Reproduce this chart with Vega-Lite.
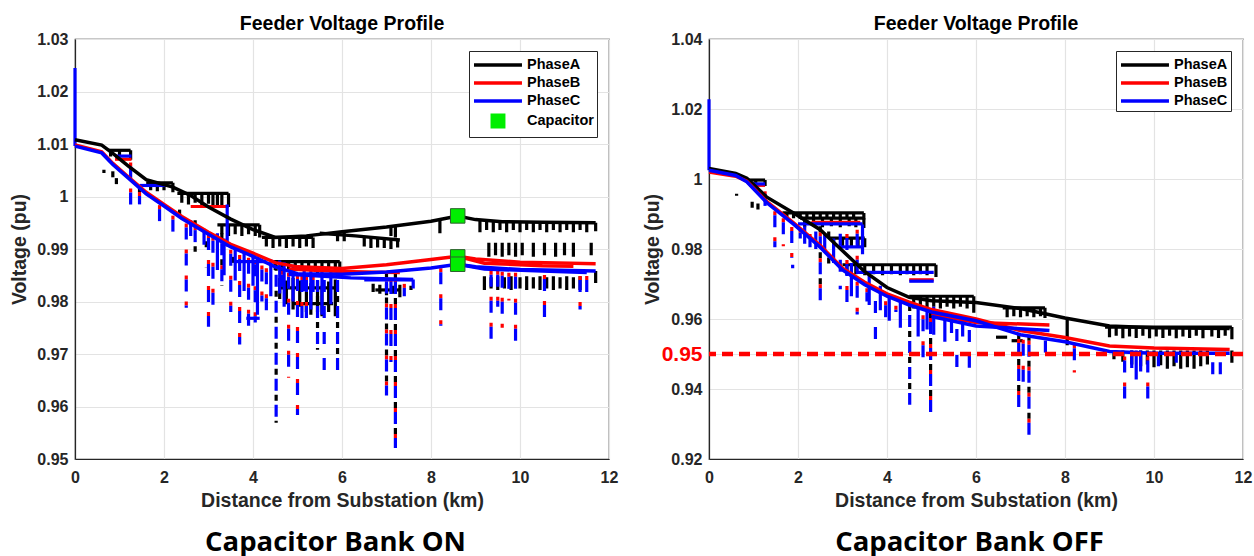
{
"$schema": "https://vega.github.io/schema/vega-lite/v6.json",
"background": "white",
"padding": {"left": 8, "top": 12, "right": 6, "bottom": 0},
"spacing": 100,
"bounds": "flush",
"resolve": {"scale": {"x": "independent", "y": "independent", "color": "independent"}, "legend": {"color": "independent"}},
"datasets": {
"onMain": [
{"ph":"PhaseA","s":1,"x":0,"y":1.0108},{"ph":"PhaseA","s":1,"x":0.6,"y":1.0098},{"ph":"PhaseA","s":1,"x":0.85,"y":1.0082},{"ph":"PhaseA","s":1,"x":1.2,"y":1.0058},{"ph":"PhaseA","s":1,"x":1.6,"y":1.0032},{"ph":"PhaseA","s":1,"x":2.2,"y":1.0018},{"ph":"PhaseA","s":1,"x":2.6,"y":1.0002},{"ph":"PhaseA","s":1,"x":3.0,"y":0.998},{"ph":"PhaseA","s":1,"x":3.5,"y":0.9957},{"ph":"PhaseA","s":1,"x":4.0,"y":0.9937},{"ph":"PhaseA","s":1,"x":4.5,"y":0.9922},{"ph":"PhaseA","s":1,"x":5.2,"y":0.9925},{"ph":"PhaseA","s":1,"x":6.0,"y":0.9933},{"ph":"PhaseA","s":1,"x":7.0,"y":0.9942},{"ph":"PhaseA","s":1,"x":8.0,"y":0.9953},{"ph":"PhaseA","s":1,"x":8.6,"y":0.9963},{"ph":"PhaseA","s":1,"x":9.0,"y":0.9956},{"ph":"PhaseA","s":1,"x":9.6,"y":0.9952},{"ph":"PhaseA","s":1,"x":10.5,"y":0.9951},{"ph":"PhaseA","s":1,"x":11.7,"y":0.995},
{"ph":"PhaseA","s":2,"x":5.5,"y":0.993},{"ph":"PhaseA","s":2,"x":6.3,"y":0.9925},{"ph":"PhaseA","s":2,"x":7.3,"y":0.9917},
{"ph":"PhaseB","s":3,"x":0,"y":1.0098},{"ph":"PhaseB","s":3,"x":0.6,"y":1.0085},{"ph":"PhaseB","s":3,"x":0.85,"y":1.0063},{"ph":"PhaseB","s":3,"x":1.2,"y":1.0037},{"ph":"PhaseB","s":3,"x":1.6,"y":1.0008},{"ph":"PhaseB","s":3,"x":2.0,"y":0.9985},{"ph":"PhaseB","s":3,"x":2.4,"y":0.9962},{"ph":"PhaseB","s":3,"x":3.0,"y":0.9932},{"ph":"PhaseB","s":3,"x":3.5,"y":0.9909},{"ph":"PhaseB","s":3,"x":4.0,"y":0.9892},{"ph":"PhaseB","s":3,"x":4.5,"y":0.9874},{"ph":"PhaseB","s":3,"x":5.0,"y":0.9866},{"ph":"PhaseB","s":3,"x":6.0,"y":0.9863},{"ph":"PhaseB","s":3,"x":7.0,"y":0.987},{"ph":"PhaseB","s":3,"x":8.0,"y":0.988},{"ph":"PhaseB","s":3,"x":8.6,"y":0.9886},{"ph":"PhaseB","s":3,"x":9.0,"y":0.9881},{"ph":"PhaseB","s":3,"x":10.0,"y":0.9875},{"ph":"PhaseB","s":3,"x":11.7,"y":0.9872},
{"ph":"PhaseB","s":4,"x":4.8,"y":0.9862},{"ph":"PhaseB","s":4,"x":6.0,"y":0.9857},{"ph":"PhaseB","s":4,"x":7.3,"y":0.9855},
{"ph":"PhaseB","s":5,"x":8.6,"y":0.9886},{"ph":"PhaseB","s":5,"x":9.2,"y":0.9873},{"ph":"PhaseB","s":5,"x":10.5,"y":0.9868},{"ph":"PhaseB","s":5,"x":11.2,"y":0.9867},
{"ph":"PhaseC","s":6,"x":0,"y":1.0096},{"ph":"PhaseC","s":6,"x":0.6,"y":1.0083},{"ph":"PhaseC","s":6,"x":0.85,"y":1.0061},{"ph":"PhaseC","s":6,"x":1.2,"y":1.0035},{"ph":"PhaseC","s":6,"x":1.6,"y":1.0005},{"ph":"PhaseC","s":6,"x":2.0,"y":0.9982},{"ph":"PhaseC","s":6,"x":2.4,"y":0.9958},{"ph":"PhaseC","s":6,"x":3.0,"y":0.9928},{"ph":"PhaseC","s":6,"x":3.5,"y":0.9904},{"ph":"PhaseC","s":6,"x":4.0,"y":0.9886},{"ph":"PhaseC","s":6,"x":4.5,"y":0.9866},{"ph":"PhaseC","s":6,"x":5.0,"y":0.9853},{"ph":"PhaseC","s":6,"x":6.0,"y":0.9852},{"ph":"PhaseC","s":6,"x":7.0,"y":0.9856},{"ph":"PhaseC","s":6,"x":8.0,"y":0.9864},{"ph":"PhaseC","s":6,"x":8.6,"y":0.9871},{"ph":"PhaseC","s":6,"x":9.0,"y":0.9866},{"ph":"PhaseC","s":6,"x":10.0,"y":0.9861},{"ph":"PhaseC","s":6,"x":11.7,"y":0.9858},
{"ph":"PhaseC","s":7,"x":4.8,"y":0.9852},{"ph":"PhaseC","s":7,"x":6.2,"y":0.9845},{"ph":"PhaseC","s":7,"x":7.6,"y":0.9842},
{"ph":"PhaseC","s":8,"x":8.6,"y":0.9871},{"ph":"PhaseC","s":8,"x":9.2,"y":0.9862},{"ph":"PhaseC","s":8,"x":10.5,"y":0.9858},{"ph":"PhaseC","s":8,"x":11.5,"y":0.9855}
],
"onCaps": [{"x":8.6,"y":0.9963},{"x":8.6,"y":0.9885},{"x":8.6,"y":0.9871}],
"onH": [
{"c":"k","x":0.75,"x2":1.25,"y":1.0088},{"c":"r","x":0.9,"x2":1.27,"y":1.0071},{"c":"b","x":0.9,"x2":1.27,"y":1.0077},
{"c":"k","x":1.6,"x2":2.2,"y":1.0026},{"c":"b","x":1.45,"x2":2.05,"y":1.0021},
{"c":"k","x":2.3,"x2":3.45,"y":1.0006},{"c":"r","x":2.6,"x2":3.45,"y":0.9981},
{"c":"k","x":3.2,"x2":4.15,"y":0.9946},{"c":"k","x":4.2,"x2":5.35,"y":0.9922},{"c":"k","x":4.4,"x2":5.95,"y":0.9876},
{"c":"b","x":3.6,"x2":4.3,"y":0.9876},{"c":"b","x":3.85,"x2":4.15,"y":0.9768},
{"c":"k","x":4.6,"x2":5.9,"y":0.9826},{"c":"k","x":4.9,"x2":5.8,"y":0.9796},
{"c":"b","x":6.5,"x2":7.6,"y":0.9841},{"c":"k","x":6.75,"x2":7.3,"y":0.9822}
],
"onV": [
{"c":"b","x":0,"y":1.0245,"y2":1.0096,"d":"s"},
{"c":"k","x":0.8,"y":1.0088,"y2":1.0076,"d":"s"},{"c":"k","x":1.0,"y":1.0088,"y2":1.0078,"d":"s"},{"c":"k","x":1.25,"y":1.0088,"y2":1.007,"d":"s"},
{"c":"k","x":0.65,"y":1.0051,"y2":1.0045,"d":"s"},{"c":"k","x":0.85,"y":1.0048,"y2":1.0005,"d":"d"},{"c":"k","x":0.93,"y":1.0035,"y2":1.0,"d":"d"},
{"c":"k","x":1.7,"y":1.0026,"y2":1.0012,"d":"s"},{"c":"k","x":1.85,"y":1.0026,"y2":1.001,"d":"s"},{"c":"k","x":2.0,"y":1.0026,"y2":1.0012,"d":"s"},{"c":"k","x":2.2,"y":1.0026,"y2":1.0008,"d":"s"},
{"c":"k","x":2.4,"y":1.0006,"y2":0.9988,"d":"s"},{"c":"k","x":2.55,"y":1.0006,"y2":0.9985,"d":"s"},{"c":"k","x":2.7,"y":1.0006,"y2":0.9988,"d":"s"},{"c":"k","x":2.85,"y":1.0006,"y2":0.9982,"d":"s"},{"c":"k","x":3.0,"y":1.0006,"y2":0.9986,"d":"s"},{"c":"k","x":3.1,"y":1.0006,"y2":0.998,"d":"s"},{"c":"k","x":3.2,"y":1.0006,"y2":0.9984,"d":"s"},{"c":"k","x":3.3,"y":1.0006,"y2":0.9982,"d":"s"},{"c":"k","x":3.45,"y":1.0006,"y2":0.998,"d":"s"},
{"c":"k","x":3.3,"y":0.9946,"y2":0.9928,"d":"s"},{"c":"k","x":3.45,"y":0.9946,"y2":0.9925,"d":"s"},{"c":"k","x":3.6,"y":0.9946,"y2":0.9928,"d":"s"},{"c":"k","x":3.75,"y":0.9946,"y2":0.9925,"d":"s"},{"c":"k","x":3.9,"y":0.9946,"y2":0.9928,"d":"s"},{"c":"k","x":4.05,"y":0.9946,"y2":0.9925,"d":"s"},{"c":"k","x":4.15,"y":0.9946,"y2":0.9922,"d":"s"},
{"c":"k","x":4.3,"y":0.9922,"y2":0.9905,"d":"s"},{"c":"k","x":4.45,"y":0.9922,"y2":0.9902,"d":"s"},{"c":"k","x":4.6,"y":0.9922,"y2":0.9905,"d":"s"},{"c":"k","x":4.75,"y":0.9922,"y2":0.9902,"d":"s"},{"c":"k","x":4.9,"y":0.9922,"y2":0.9905,"d":"s"},{"c":"k","x":5.05,"y":0.9922,"y2":0.9902,"d":"s"},{"c":"k","x":5.2,"y":0.9922,"y2":0.9905,"d":"s"},{"c":"k","x":5.35,"y":0.9922,"y2":0.9902,"d":"s"},
{"c":"k","x":4.5,"y":0.9876,"y2":0.986,"d":"s"},{"c":"k","x":4.65,"y":0.9876,"y2":0.9858,"d":"s"},{"c":"k","x":4.8,"y":0.9876,"y2":0.986,"d":"s"},{"c":"k","x":4.95,"y":0.9876,"y2":0.9858,"d":"s"},{"c":"k","x":5.1,"y":0.9876,"y2":0.986,"d":"s"},{"c":"k","x":5.25,"y":0.9876,"y2":0.9858,"d":"s"},{"c":"k","x":5.4,"y":0.9876,"y2":0.986,"d":"s"},{"c":"k","x":5.55,"y":0.9876,"y2":0.9858,"d":"s"},{"c":"k","x":5.7,"y":0.9876,"y2":0.986,"d":"s"},{"c":"k","x":5.85,"y":0.9876,"y2":0.9858,"d":"s"},{"c":"k","x":5.95,"y":0.9876,"y2":0.985,"d":"s"},
{"c":"k","x":5.9,"y":0.9932,"y2":0.9915,"d":"s"},{"c":"k","x":6.05,"y":0.9933,"y2":0.9915,"d":"s"},{"c":"k","x":7.1,"y":0.9941,"y2":0.9925,"d":"s"},{"c":"k","x":7.2,"y":0.9942,"y2":0.9922,"d":"s"},{"c":"k","x":8.2,"y":0.9955,"y2":0.993,"d":"s"},
{"c":"k","x":6.5,"y":0.9923,"y2":0.9905,"d":"s"},{"c":"k","x":6.65,"y":0.9922,"y2":0.9902,"d":"s"},{"c":"k","x":6.8,"y":0.9921,"y2":0.9903,"d":"s"},{"c":"k","x":6.95,"y":0.992,"y2":0.9902,"d":"s"},{"c":"k","x":7.1,"y":0.9919,"y2":0.99,"d":"s"},{"c":"k","x":7.25,"y":0.9918,"y2":0.9903,"d":"s"},
{"c":"k","x":9.1,"y":0.9955,"y2":0.9932,"d":"s"},{"c":"k","x":9.25,"y":0.9953,"y2":0.9936,"d":"s"},{"c":"k","x":9.4,"y":0.9952,"y2":0.9932,"d":"s"},{"c":"k","x":9.55,"y":0.9952,"y2":0.9936,"d":"s"},{"c":"k","x":9.7,"y":0.9952,"y2":0.9932,"d":"s"},{"c":"k","x":9.85,"y":0.9952,"y2":0.9936,"d":"s"},{"c":"k","x":10.0,"y":0.9951,"y2":0.9932,"d":"s"},{"c":"k","x":10.15,"y":0.9951,"y2":0.9936,"d":"s"},{"c":"k","x":10.3,"y":0.9951,"y2":0.9932,"d":"s"},{"c":"k","x":10.45,"y":0.9951,"y2":0.9936,"d":"s"},{"c":"k","x":10.6,"y":0.9951,"y2":0.9932,"d":"s"},{"c":"k","x":10.75,"y":0.9951,"y2":0.9936,"d":"s"},{"c":"k","x":10.9,"y":0.995,"y2":0.9932,"d":"s"},{"c":"k","x":11.05,"y":0.995,"y2":0.9936,"d":"s"},{"c":"k","x":11.2,"y":0.995,"y2":0.9932,"d":"s"},{"c":"k","x":11.35,"y":0.995,"y2":0.9936,"d":"s"},{"c":"k","x":11.5,"y":0.995,"y2":0.9932,"d":"s"},{"c":"k","x":11.7,"y":0.995,"y2":0.9934,"d":"s"},
{"c":"k","x":9.3,"y":0.9912,"y2":0.9885,"d":"s"},{"c":"k","x":9.45,"y":0.9912,"y2":0.9888,"d":"s"},{"c":"k","x":9.6,"y":0.9912,"y2":0.9885,"d":"s"},{"c":"k","x":9.75,"y":0.9912,"y2":0.9888,"d":"s"},{"c":"k","x":9.9,"y":0.9912,"y2":0.9885,"d":"s"},{"c":"k","x":10.05,"y":0.9912,"y2":0.9888,"d":"s"},{"c":"k","x":10.3,"y":0.9912,"y2":0.9885,"d":"s"},{"c":"k","x":10.55,"y":0.9912,"y2":0.9888,"d":"s"},{"c":"k","x":10.8,"y":0.9912,"y2":0.9885,"d":"s"},{"c":"k","x":11.0,"y":0.9912,"y2":0.9888,"d":"s"},{"c":"k","x":11.2,"y":0.9912,"y2":0.9885,"d":"s"},{"c":"k","x":11.6,"y":0.9912,"y2":0.9888,"d":"s"},
{"c":"k","x":9.2,"y":0.9848,"y2":0.9822,"d":"s"},{"c":"k","x":9.35,"y":0.9846,"y2":0.9825,"d":"s"},{"c":"k","x":9.5,"y":0.9848,"y2":0.9822,"d":"s"},{"c":"k","x":9.65,"y":0.9846,"y2":0.9825,"d":"s"},{"c":"k","x":9.8,"y":0.9848,"y2":0.9822,"d":"s"},{"c":"k","x":10.0,"y":0.9846,"y2":0.9825,"d":"s"},{"c":"k","x":10.15,"y":0.9848,"y2":0.9822,"d":"s"},{"c":"k","x":10.3,"y":0.9846,"y2":0.9825,"d":"s"},{"c":"k","x":10.45,"y":0.9848,"y2":0.9822,"d":"s"},{"c":"k","x":10.6,"y":0.9846,"y2":0.9825,"d":"s"},{"c":"k","x":10.75,"y":0.9848,"y2":0.9822,"d":"s"},{"c":"k","x":10.9,"y":0.9846,"y2":0.9825,"d":"s"},{"c":"k","x":11.05,"y":0.9848,"y2":0.9822,"d":"s"},{"c":"k","x":11.2,"y":0.9846,"y2":0.9825,"d":"s"},{"c":"k","x":11.35,"y":0.9848,"y2":0.9822,"d":"s"},{"c":"k","x":11.7,"y":0.9858,"y2":0.9835,"d":"s"},
{"c":"k","x":6.7,"y":0.9834,"y2":0.9818,"d":"s"},{"c":"k","x":6.85,"y":0.9832,"y2":0.9815,"d":"s"},{"c":"k","x":7.0,"y":0.9834,"y2":0.9812,"d":"s"},{"c":"k","x":7.15,"y":0.983,"y2":0.9815,"d":"s"},{"c":"k","x":7.3,"y":0.9832,"y2":0.9808,"d":"s"},{"c":"k","x":7.55,"y":0.983,"y2":0.9822,"d":"s"},
{"c":"k","x":4.6,"y":0.9845,"y2":0.9805,"d":"s"},{"c":"k","x":4.75,"y":0.984,"y2":0.9795,"d":"s"},{"c":"k","x":4.9,"y":0.9845,"y2":0.9785,"d":"s"},{"c":"k","x":5.05,"y":0.984,"y2":0.979,"d":"s"},{"c":"k","x":5.2,"y":0.9842,"y2":0.978,"d":"s"},{"c":"k","x":5.3,"y":0.9835,"y2":0.9775,"d":"s"},{"c":"k","x":5.45,"y":0.984,"y2":0.978,"d":"s"},{"c":"k","x":5.55,"y":0.983,"y2":0.9772,"d":"s"},{"c":"k","x":5.7,"y":0.9838,"y2":0.978,"d":"s"},{"c":"k","x":5.85,"y":0.9842,"y2":0.9772,"d":"s"},
{"c":"k","x":2.35,"y":0.9975,"y2":0.9955,"d":"d"},{"c":"k","x":2.95,"y":0.9915,"y2":0.9865,"d":"d"},{"c":"k","x":3.55,"y":0.9885,"y2":0.984,"d":"d"},
{"c":"rb","x":1.25,"y":1.0076,"y2":0.9985,"d":"d"},{"c":"krb","x":1.45,"y":1.002,"y2":0.9985,"d":"d"},{"c":"rb","x":1.9,"y":0.9995,"y2":0.9945,"d":"d"},{"c":"rb","x":2.2,"y":0.9975,"y2":0.9915,"d":"d"},{"c":"rb","x":2.5,"y":0.996,"y2":0.9788,"d":"d"},{"c":"krb","x":2.7,"y":0.9955,"y2":0.9895,"d":"d"},{"c":"rb","x":2.9,"y":0.995,"y2":0.9905,"d":"d"},{"c":"rb","x":3.0,"y":0.994,"y2":0.9752,"d":"d"},{"c":"rb","x":3.1,"y":0.9935,"y2":0.978,"d":"d"},{"c":"krb","x":3.3,"y":0.993,"y2":0.983,"d":"d"},{"c":"b","x":3.42,"y":0.9985,"y2":0.9905,"d":"s"},{"c":"rb","x":3.5,"y":0.991,"y2":0.978,"d":"d"},{"c":"rb","x":3.7,"y":0.99,"y2":0.9718,"d":"d"},{"c":"rb","x":3.9,"y":0.9895,"y2":0.9735,"d":"d"},{"c":"rb","x":4.05,"y":0.989,"y2":0.976,"d":"d"},{"c":"rb","x":4.2,"y":0.988,"y2":0.98,"d":"d"},{"c":"rb","x":4.3,"y":0.9875,"y2":0.977,"d":"d"},{"c":"kb","x":4.52,"y":0.987,"y2":0.9569,"d":"d"},{"c":"rb","x":4.65,"y":0.987,"y2":0.981,"d":"d"},{"c":"rb","x":4.8,"y":0.9866,"y2":0.9655,"d":"d"},{"c":"rb","x":5.0,"y":0.9862,"y2":0.9584,"d":"d"},{"c":"rb","x":5.1,"y":0.986,"y2":0.976,"d":"d"},{"c":"rb","x":5.2,"y":0.986,"y2":0.9755,"d":"d"},{"c":"rb","x":5.35,"y":0.986,"y2":0.98,"d":"d"},{"c":"kb","x":5.45,"y":0.986,"y2":0.9708,"d":"d"},{"c":"b","x":5.6,"y":0.986,"y2":0.9667,"d":"d"},{"c":"kb","x":5.9,"y":0.986,"y2":0.9667,"d":"d"},{"c":"krb","x":7.0,"y":0.9857,"y2":0.9621,"d":"d"},{"c":"rb","x":7.1,"y":0.9856,"y2":0.9685,"d":"d"},{"c":"krb","x":7.2,"y":0.9856,"y2":0.9521,"d":"d"},{"c":"rb","x":7.4,"y":0.9845,"y2":0.981,"d":"d"},{"c":"b","x":7.6,"y":0.9842,"y2":0.9825,"d":"s"},{"c":"rb","x":8.22,"y":0.9875,"y2":0.9754,"d":"d"},{"c":"rb","x":9.35,"y":0.987,"y2":0.9713,"d":"d"},{"c":"rb","x":9.5,"y":0.987,"y2":0.979,"d":"d"},{"c":"rb","x":9.6,"y":0.9868,"y2":0.975,"d":"d"},{"c":"rb","x":9.75,"y":0.9866,"y2":0.9802,"d":"d"},{"c":"rb","x":9.9,"y":0.9866,"y2":0.9711,"d":"d"},{"c":"rb","x":10.55,"y":0.9862,"y2":0.977,"d":"d"},{"c":"rb","x":11.35,"y":0.986,"y2":0.9785,"d":"d"},{"c":"rb","x":11.5,"y":0.986,"y2":0.9802,"d":"d"},
{"c":"b","x":2.6,"y":0.9955,"y2":0.9925,"d":"s"},{"c":"b","x":3.2,"y":0.993,"y2":0.986,"d":"s"},{"c":"b","x":3.35,"y":0.992,"y2":0.985,"d":"s"},{"c":"b","x":3.6,"y":0.99,"y2":0.984,"d":"s"},{"c":"b","x":3.8,"y":0.9895,"y2":0.982,"d":"s"},{"c":"b","x":4.0,"y":0.989,"y2":0.983,"d":"s"},{"c":"b","x":4.1,"y":0.9885,"y2":0.9775,"d":"s"},{"c":"b","x":4.4,"y":0.988,"y2":0.981,"d":"s"},{"c":"b","x":4.6,"y":0.9878,"y2":0.9815,"d":"s"},{"c":"b","x":4.7,"y":0.9875,"y2":0.979,"d":"s"},{"c":"b","x":4.9,"y":0.987,"y2":0.98,"d":"s"},{"c":"b","x":5.15,"y":0.986,"y2":0.982,"d":"s"},{"c":"b","x":5.3,"y":0.986,"y2":0.9785,"d":"s"},{"c":"b","x":5.55,"y":0.986,"y2":0.9775,"d":"s"},{"c":"b","x":5.75,"y":0.986,"y2":0.9795,"d":"s"}
],
"offMain": [
{"ph":"PhaseA","s":1,"x":0,"y":1.003},{"ph":"PhaseA","s":1,"x":0.6,"y":1.0016},{"ph":"PhaseA","s":1,"x":0.85,"y":1.0002},{"ph":"PhaseA","s":1,"x":1.3,"y":0.9948},{"ph":"PhaseA","s":1,"x":1.9,"y":0.9903},{"ph":"PhaseA","s":1,"x":2.5,"y":0.9855},{"ph":"PhaseA","s":1,"x":3.0,"y":0.9795},{"ph":"PhaseA","s":1,"x":3.5,"y":0.9735},{"ph":"PhaseA","s":1,"x":4.0,"y":0.969},{"ph":"PhaseA","s":1,"x":4.5,"y":0.9662},{"ph":"PhaseA","s":1,"x":5.0,"y":0.9652},{"ph":"PhaseA","s":1,"x":6.0,"y":0.9647},{"ph":"PhaseA","s":1,"x":7.0,"y":0.963},{"ph":"PhaseA","s":1,"x":8.0,"y":0.9603},{"ph":"PhaseA","s":1,"x":9.0,"y":0.958},{"ph":"PhaseA","s":1,"x":10.0,"y":0.9575},{"ph":"PhaseA","s":1,"x":11.7,"y":0.9573},
{"ph":"PhaseB","s":3,"x":0,"y":1.002},{"ph":"PhaseB","s":3,"x":0.6,"y":1.0008},{"ph":"PhaseB","s":3,"x":0.85,"y":0.9994},{"ph":"PhaseB","s":3,"x":1.3,"y":0.9935},{"ph":"PhaseB","s":3,"x":1.9,"y":0.9875},{"ph":"PhaseB","s":3,"x":2.5,"y":0.981},{"ph":"PhaseB","s":3,"x":3.0,"y":0.9745},{"ph":"PhaseB","s":3,"x":3.5,"y":0.9705},{"ph":"PhaseB","s":3,"x":4.0,"y":0.9672},{"ph":"PhaseB","s":3,"x":4.5,"y":0.9648},{"ph":"PhaseB","s":3,"x":5.0,"y":0.9627},{"ph":"PhaseB","s":3,"x":6.0,"y":0.96},{"ph":"PhaseB","s":3,"x":7.0,"y":0.9567},{"ph":"PhaseB","s":3,"x":8.0,"y":0.9547},{"ph":"PhaseB","s":3,"x":9.0,"y":0.9523},{"ph":"PhaseB","s":3,"x":10.0,"y":0.9517},{"ph":"PhaseB","s":3,"x":11.7,"y":0.9513},
{"ph":"PhaseB","s":4,"x":5.0,"y":0.9615},{"ph":"PhaseB","s":4,"x":6.0,"y":0.959},{"ph":"PhaseB","s":4,"x":7.65,"y":0.9583},
{"ph":"PhaseC","s":6,"x":0,"y":1.0025},{"ph":"PhaseC","s":6,"x":0.6,"y":1.001},{"ph":"PhaseC","s":6,"x":0.85,"y":0.9992},{"ph":"PhaseC","s":6,"x":1.3,"y":0.9932},{"ph":"PhaseC","s":6,"x":1.9,"y":0.9871},{"ph":"PhaseC","s":6,"x":2.5,"y":0.9805},{"ph":"PhaseC","s":6,"x":3.0,"y":0.974},{"ph":"PhaseC","s":6,"x":3.5,"y":0.9698},{"ph":"PhaseC","s":6,"x":4.0,"y":0.9665},{"ph":"PhaseC","s":6,"x":4.5,"y":0.964},{"ph":"PhaseC","s":6,"x":5.0,"y":0.962},{"ph":"PhaseC","s":6,"x":6.0,"y":0.9595},{"ph":"PhaseC","s":6,"x":7.0,"y":0.9555},{"ph":"PhaseC","s":6,"x":8.0,"y":0.9535},{"ph":"PhaseC","s":6,"x":9.0,"y":0.9507},{"ph":"PhaseC","s":6,"x":10.0,"y":0.9502},{"ph":"PhaseC","s":6,"x":11.7,"y":0.9502},
{"ph":"PhaseC","s":7,"x":5.0,"y":0.9607},{"ph":"PhaseC","s":7,"x":6.0,"y":0.958},{"ph":"PhaseC","s":7,"x":7.65,"y":0.9567}
],
"offH": [
{"c":"k","x":0.85,"x2":1.26,"y":0.9997},{"c":"r","x":0.9,"x2":1.26,"y":0.9982},{"c":"b","x":0.9,"x2":1.26,"y":0.9986},
{"c":"k","x":1.65,"x2":3.48,"y":0.9903},{"c":"k","x":2.05,"x2":3.48,"y":0.9888},{"c":"r","x":2.3,"x2":3.4,"y":0.9876},{"c":"b","x":2.0,"x2":3.45,"y":0.9872},
{"c":"k","x":2.7,"x2":3.5,"y":0.9831},{"c":"b","x":2.9,"x2":3.45,"y":0.9806},
{"c":"k","x":3.0,"x2":5.1,"y":0.9755},{"c":"b","x":3.3,"x2":5.05,"y":0.9733},{"c":"r","x":4.5,"x2":5.05,"y":0.9712},{"c":"b","x":4.5,"x2":5.05,"y":0.9708},
{"c":"k","x":4.5,"x2":5.95,"y":0.9665},{"c":"k","x":6.6,"x2":7.55,"y":0.9632},{"c":"k","x":8.9,"x2":11.75,"y":0.9577},
{"c":"k","x":6.45,"x2":6.7,"y":0.9548},{"c":"k","x":6.8,"x2":7.05,"y":0.9538}
],
"offV": [
{"c":"b","x":0,"y":1.0228,"y2":1.0025,"d":"s"},
{"c":"k","x":0.9,"y":0.9997,"y2":0.9985,"d":"s"},{"c":"k","x":1.05,"y":0.9997,"y2":0.9983,"d":"s"},{"c":"k","x":1.26,"y":0.9997,"y2":0.998,"d":"s"},
{"c":"k","x":0.62,"y":0.9958,"y2":0.9952,"d":"s"},{"c":"k","x":0.97,"y":0.9935,"y2":0.9915,"d":"d"},{"c":"k","x":1.1,"y":0.993,"y2":0.9905,"d":"d"},
{"c":"k","x":1.75,"y":0.9903,"y2":0.9886,"d":"s"},{"c":"k","x":1.9,"y":0.9903,"y2":0.9888,"d":"s"},{"c":"k","x":2.05,"y":0.9903,"y2":0.9886,"d":"s"},{"c":"k","x":2.2,"y":0.9903,"y2":0.9888,"d":"s"},{"c":"k","x":2.35,"y":0.9903,"y2":0.9886,"d":"s"},{"c":"k","x":2.5,"y":0.9903,"y2":0.9888,"d":"s"},{"c":"k","x":2.65,"y":0.9903,"y2":0.9886,"d":"s"},{"c":"k","x":2.8,"y":0.9903,"y2":0.9888,"d":"s"},{"c":"k","x":2.95,"y":0.9903,"y2":0.9886,"d":"s"},{"c":"k","x":3.1,"y":0.9903,"y2":0.9888,"d":"s"},{"c":"k","x":3.25,"y":0.9903,"y2":0.9886,"d":"s"},{"c":"k","x":3.48,"y":0.9903,"y2":0.9884,"d":"s"},
{"c":"k","x":2.15,"y":0.9888,"y2":0.9862,"d":"s"},{"c":"k","x":2.35,"y":0.9888,"y2":0.9865,"d":"s"},{"c":"k","x":2.55,"y":0.9888,"y2":0.9862,"d":"s"},{"c":"k","x":2.75,"y":0.9888,"y2":0.9865,"d":"s"},{"c":"k","x":2.95,"y":0.9888,"y2":0.9862,"d":"s"},{"c":"k","x":3.15,"y":0.9888,"y2":0.9865,"d":"s"},{"c":"k","x":3.3,"y":0.9888,"y2":0.9862,"d":"s"},{"c":"k","x":3.48,"y":0.9888,"y2":0.986,"d":"s"},
{"c":"k","x":2.8,"y":0.9831,"y2":0.9805,"d":"s"},{"c":"k","x":3.0,"y":0.9831,"y2":0.9808,"d":"s"},{"c":"k","x":3.2,"y":0.9831,"y2":0.9805,"d":"s"},{"c":"k","x":3.35,"y":0.9831,"y2":0.9808,"d":"s"},{"c":"k","x":3.5,"y":0.9831,"y2":0.9805,"d":"s"},
{"c":"k","x":3.1,"y":0.9755,"y2":0.9725,"d":"s"},{"c":"k","x":3.3,"y":0.9755,"y2":0.9728,"d":"s"},{"c":"k","x":3.5,"y":0.9755,"y2":0.9725,"d":"s"},{"c":"k","x":3.7,"y":0.9755,"y2":0.9728,"d":"s"},{"c":"k","x":3.9,"y":0.9755,"y2":0.9725,"d":"s"},{"c":"k","x":4.1,"y":0.9755,"y2":0.9728,"d":"s"},{"c":"k","x":4.3,"y":0.9755,"y2":0.9725,"d":"s"},{"c":"k","x":4.45,"y":0.9755,"y2":0.9728,"d":"s"},{"c":"k","x":4.6,"y":0.9755,"y2":0.9725,"d":"s"},{"c":"k","x":4.75,"y":0.9755,"y2":0.9728,"d":"s"},{"c":"k","x":4.9,"y":0.9755,"y2":0.9725,"d":"s"},{"c":"k","x":5.1,"y":0.9755,"y2":0.972,"d":"s"},
{"c":"k","x":4.6,"y":0.9665,"y2":0.963,"d":"s"},{"c":"k","x":4.75,"y":0.9665,"y2":0.9635,"d":"s"},{"c":"k","x":4.9,"y":0.9665,"y2":0.963,"d":"s"},{"c":"k","x":5.05,"y":0.9665,"y2":0.9635,"d":"s"},{"c":"k","x":5.2,"y":0.9665,"y2":0.963,"d":"s"},{"c":"k","x":5.35,"y":0.9665,"y2":0.9635,"d":"s"},{"c":"k","x":5.5,"y":0.9665,"y2":0.963,"d":"s"},{"c":"k","x":5.65,"y":0.9665,"y2":0.9635,"d":"s"},{"c":"k","x":5.8,"y":0.9665,"y2":0.963,"d":"s"},{"c":"k","x":5.95,"y":0.9665,"y2":0.9618,"d":"s"},
{"c":"k","x":6.7,"y":0.9632,"y2":0.9605,"d":"s"},{"c":"k","x":6.85,"y":0.9632,"y2":0.9608,"d":"s"},{"c":"k","x":7.0,"y":0.9632,"y2":0.9605,"d":"s"},{"c":"k","x":7.15,"y":0.9632,"y2":0.9608,"d":"s"},{"c":"k","x":7.3,"y":0.9632,"y2":0.9605,"d":"s"},{"c":"k","x":7.45,"y":0.9632,"y2":0.9608,"d":"s"},{"c":"k","x":7.55,"y":0.9632,"y2":0.9603,"d":"s"},
{"c":"k","x":9.0,"y":0.9577,"y2":0.9548,"d":"s"},{"c":"k","x":9.15,"y":0.9577,"y2":0.9552,"d":"s"},{"c":"k","x":9.3,"y":0.9577,"y2":0.9545,"d":"s"},{"c":"k","x":9.45,"y":0.9577,"y2":0.955,"d":"s"},{"c":"k","x":9.6,"y":0.9577,"y2":0.9546,"d":"s"},{"c":"k","x":9.75,"y":0.9577,"y2":0.9552,"d":"s"},{"c":"k","x":9.9,"y":0.9577,"y2":0.9545,"d":"s"},{"c":"k","x":10.05,"y":0.9577,"y2":0.955,"d":"s"},{"c":"k","x":10.2,"y":0.9577,"y2":0.9546,"d":"s"},{"c":"k","x":10.35,"y":0.9577,"y2":0.9552,"d":"s"},{"c":"k","x":10.5,"y":0.9577,"y2":0.9545,"d":"s"},{"c":"k","x":10.65,"y":0.9577,"y2":0.955,"d":"s"},{"c":"k","x":10.8,"y":0.9577,"y2":0.9546,"d":"s"},{"c":"k","x":10.95,"y":0.9577,"y2":0.9552,"d":"s"},{"c":"k","x":11.1,"y":0.9577,"y2":0.9545,"d":"s"},{"c":"k","x":11.3,"y":0.9577,"y2":0.955,"d":"s"},{"c":"k","x":11.45,"y":0.9577,"y2":0.9546,"d":"s"},{"c":"k","x":11.6,"y":0.9577,"y2":0.9552,"d":"s"},{"c":"k","x":11.75,"y":0.9577,"y2":0.9542,"d":"s"},
{"c":"k","x":9.1,"y":0.9505,"y2":0.9485,"d":"s"},{"c":"k","x":9.3,"y":0.951,"y2":0.9478,"d":"s"},{"c":"k","x":9.5,"y":0.951,"y2":0.947,"d":"s"},{"c":"k","x":9.7,"y":0.951,"y2":0.9465,"d":"s"},{"c":"k","x":9.85,"y":0.951,"y2":0.947,"d":"s"},{"c":"k","x":10.0,"y":0.951,"y2":0.9462,"d":"s"},{"c":"k","x":10.15,"y":0.951,"y2":0.9468,"d":"s"},{"c":"k","x":10.3,"y":0.951,"y2":0.9458,"d":"s"},{"c":"k","x":10.45,"y":0.951,"y2":0.9465,"d":"s"},{"c":"k","x":10.6,"y":0.951,"y2":0.9458,"d":"s"},{"c":"k","x":10.75,"y":0.951,"y2":0.9462,"d":"s"},{"c":"k","x":10.9,"y":0.951,"y2":0.9458,"d":"s"},{"c":"k","x":11.05,"y":0.951,"y2":0.9465,"d":"s"},{"c":"k","x":11.2,"y":0.951,"y2":0.947,"d":"s"},{"c":"k","x":11.75,"y":0.951,"y2":0.9475,"d":"s"},
{"c":"k","x":8.05,"y":0.9602,"y2":0.9525,"d":"s"},{"c":"k","x":2.69,"y":0.985,"y2":0.9714,"d":"d"},
{"c":"b","x":1.26,"y":0.9986,"y2":0.9912,"d":"d"},{"c":"r","x":1.26,"y":0.9982,"y2":0.993,"d":"d"},
{"c":"rb","x":1.48,"y":0.9925,"y2":0.9805,"d":"d"},{"c":"rb","x":1.67,"y":0.9905,"y2":0.9808,"d":"d"},{"c":"rb","x":1.86,"y":0.988,"y2":0.9775,"d":"d"},{"c":"b","x":1.88,"y":0.9755,"y2":0.9745,"d":"s"},{"c":"rb","x":2.05,"y":0.9875,"y2":0.983,"d":"d"},{"c":"rb","x":2.27,"y":0.986,"y2":0.9805,"d":"d"},{"c":"krb","x":2.5,"y":0.9865,"y2":0.9642,"d":"d"},{"c":"b","x":2.95,"y":0.9872,"y2":0.9685,"d":"d"},{"c":"rb","x":3.1,"y":0.986,"y2":0.964,"d":"d"},{"c":"rb","x":3.33,"y":0.9872,"y2":0.9613,"d":"d"},{"c":"b","x":3.45,"y":0.987,"y2":0.9785,"d":"s"},{"c":"rb","x":3.55,"y":0.9705,"y2":0.965,"d":"d"},{"c":"b","x":3.74,"y":0.968,"y2":0.9524,"d":"d"},{"c":"rb","x":3.97,"y":0.9668,"y2":0.9582,"d":"d"},{"c":"rb","x":4.2,"y":0.9655,"y2":0.962,"d":"d"},{"c":"kb","x":4.51,"y":0.964,"y2":0.9355,"d":"d"},{"c":"rb","x":4.81,"y":0.9628,"y2":0.9482,"d":"d"},{"c":"krb","x":4.98,"y":0.962,"y2":0.9334,"d":"d"},{"c":"b","x":5.57,"y":0.96,"y2":0.9447,"d":"d"},{"c":"b","x":5.85,"y":0.9597,"y2":0.9461,"d":"d"},{"c":"krb","x":6.96,"y":0.956,"y2":0.9339,"d":"d"},{"c":"rb","x":7.06,"y":0.9558,"y2":0.9398,"d":"d"},{"c":"krb","x":7.19,"y":0.9555,"y2":0.9263,"d":"d"},{"c":"b","x":7.56,"y":0.9567,"y2":0.9479,"d":"d"},{"c":"rb","x":8.21,"y":0.9545,"y2":0.9447,"d":"d"},{"c":"rb","x":9.34,"y":0.951,"y2":0.9362,"d":"d"},{"c":"rb","x":9.86,"y":0.951,"y2":0.9357,"d":"d"},{"c":"b","x":11.32,"y":0.9505,"y2":0.9435,"d":"d"},{"c":"b","x":11.49,"y":0.9505,"y2":0.9431,"d":"d"},
{"c":"b","x":2.15,"y":0.9865,"y2":0.9815,"d":"s"},{"c":"b","x":2.4,"y":0.985,"y2":0.98,"d":"s"},{"c":"b","x":2.6,"y":0.9845,"y2":0.9795,"d":"s"},{"c":"b","x":2.8,"y":0.983,"y2":0.976,"d":"s"},{"c":"b","x":3.2,"y":0.976,"y2":0.9665,"d":"s"},{"c":"b","x":3.6,"y":0.9725,"y2":0.964,"d":"s"},{"c":"b","x":3.85,"y":0.9695,"y2":0.9625,"d":"s"},{"c":"b","x":4.05,"y":0.967,"y2":0.9595,"d":"s"},{"c":"b","x":4.3,"y":0.9655,"y2":0.9575,"d":"s"},{"c":"b","x":4.7,"y":0.964,"y2":0.955,"d":"s"},{"c":"b","x":4.9,"y":0.963,"y2":0.957,"d":"s"},{"c":"b","x":5.05,"y":0.9635,"y2":0.9555,"d":"s"},{"c":"b","x":5.3,"y":0.961,"y2":0.9535,"d":"s"},{"c":"b","x":5.45,"y":0.9605,"y2":0.956,"d":"s"},{"c":"b","x":5.7,"y":0.96,"y2":0.955,"d":"s"},{"c":"b","x":9.5,"y":0.951,"y2":0.946,"d":"s"},{"c":"b","x":9.6,"y":0.951,"y2":0.9427,"d":"s"},{"c":"b","x":9.7,"y":0.951,"y2":0.945,"d":"s"},{"c":"b","x":10.1,"y":0.9505,"y2":0.9465,"d":"s"},{"c":"b","x":10.5,"y":0.9505,"y2":0.9475,"d":"s"}
]
},
"hconcat": [
{
"width": 534, "height": 420,
"title": {"text": "Feeder Voltage Profile"},
"resolve": {"axis": {"x": "independent"}, "scale": {"strokeDash": "independent"}},
"layer": [
{"data": {"name": "onH"}, "transform": [{"filter": "indexof(datum.c,'k') >= 0"}],
 "mark": {"type": "rule", "color": "#000000", "strokeWidth": 3.2},
 "encoding": {
  "x": {"field": "x", "type": "quantitative", "scale": {"domain": [0, 12], "nice": false, "zero": false}, "axis": {"values": [0,2,4,6,8,10,12], "format": "~g", "title": "Distance from Substation (km)", "labelPadding": 10, "titlePadding": 6}},
  "x2": {"field": "x2"},
  "y": {"field": "y", "type": "quantitative", "scale": {"domain": [0.95, 1.03], "nice": false, "zero": false}, "axis": {"values": [0.95,0.96,0.97,0.98,0.99,1,1.01,1.02,1.03], "format": "~g", "title": "Voltage (pu)", "labelPadding": 7, "titleX": -46}}
 }},
{"data": {"name": "onV"}, "transform": [{"filter": "indexof(datum.c,'k') >= 0"}],
 "mark": {"type": "rule", "color": "#000000", "strokeWidth": 3.2, "strokeDashOffset": 0},
 "encoding": {
  "x": {"field": "x", "type": "quantitative", "axis": {"orient": "bottom", "title": "Capacitor Bank ON", "labels": false, "ticks": false, "domain": false, "grid": false, "titleFont": "Open Sans", "titleFontSize": 27.5, "titleFontWeight": "bold", "titleColor": "#000000", "titlePadding": 69, "titleX": 260}},
  "y": {"field": "y", "type": "quantitative"},
  "y2": {"field": "y2"},
  "strokeDash": {"field": "d", "type": "nominal", "scale": {"domain": ["s","d"], "range": [[1,0],[6,20]]}, "legend": null}
 }},
{"data": {"name": "onH"}, "transform": [{"filter": "indexof(datum.c,'r') >= 0"}],
 "mark": {"type": "rule", "color": "#ff0000", "strokeWidth": 3.2},
 "encoding": {"x": {"field": "x", "type": "quantitative", "axis": null}, "x2": {"field": "x2"}, "y": {"field": "y", "type": "quantitative"}}},
{"data": {"name": "onV"}, "transform": [{"filter": "indexof(datum.c,'r') >= 0"}],
 "mark": {"type": "rule", "color": "#ff0000", "strokeWidth": 3.2, "strokeDashOffset": -6},
 "encoding": {"x": {"field": "x", "type": "quantitative", "axis": null}, "y": {"field": "y", "type": "quantitative"}, "y2": {"field": "y2"},
  "strokeDash": {"field": "d", "type": "nominal", "scale": {"domain": ["s","d"], "range": [[1,0],[4,22]]}, "legend": null}}},
{"data": {"name": "onH"}, "transform": [{"filter": "indexof(datum.c,'b') >= 0"}],
 "mark": {"type": "rule", "color": "#0000ff", "strokeWidth": 3.2},
 "encoding": {"x": {"field": "x", "type": "quantitative", "axis": null}, "x2": {"field": "x2"}, "y": {"field": "y", "type": "quantitative"}}},
{"data": {"name": "onV"}, "transform": [{"filter": "indexof(datum.c,'b') >= 0"}],
 "mark": {"type": "rule", "color": "#0000ff", "strokeWidth": 3.2, "strokeDashOffset": -10},
 "encoding": {"x": {"field": "x", "type": "quantitative", "axis": null}, "y": {"field": "y", "type": "quantitative"}, "y2": {"field": "y2"},
  "strokeDash": {"field": "d", "type": "nominal", "scale": {"domain": ["s","d"], "range": [[1,0],[12,14]]}, "legend": null}}},
{"data": {"name": "onMain"},
 "mark": {"type": "line", "strokeWidth": 3.5},
 "encoding": {"x": {"field": "x", "type": "quantitative", "axis": null}, "y": {"field": "y", "type": "quantitative"}, "detail": {"field": "s"},
  "color": {"field": "ph", "type": "nominal", "scale": {"domain": ["PhaseA","PhaseB","PhaseC","Capacitor"], "range": ["#000000","#ff0000","#0000ff","#00ee00"]},
   "legend": {"title": null, "encode": {"symbols": {"update": {
     "shape": {"signal": "datum.value === 'Capacitor' ? 'M1.03,-0.63H2.3V0.63H1.03Z' : 'M-1,0H4.33'"},
     "fill": {"signal": "datum.value === 'Capacitor' ? '#00ee00' : 'transparent'"},
     "stroke": {"signal": "datum.value === 'PhaseA' ? '#000000' : datum.value === 'PhaseB' ? '#ff0000' : datum.value === 'PhaseC' ? '#0000ff' : '#22b022'"},
     "strokeWidth": {"value": 3.5},
     "opacity": {"value": 1}}}}}}}},
{"data": {"name": "onCaps"},
 "mark": {"type": "square", "size": 210, "fill": "#00ee00", "stroke": "#2b5f2b", "strokeWidth": 1, "opacity": 1},
 "encoding": {"x": {"field": "x", "type": "quantitative", "axis": null}, "y": {"field": "y", "type": "quantitative"}}}
]
},
{
"width": 534, "height": 420,
"title": {"text": "Feeder Voltage Profile"},
"resolve": {"axis": {"x": "independent"}, "scale": {"strokeDash": "independent"}},
"layer": [
{"data": {"name": "offH"}, "transform": [{"filter": "indexof(datum.c,'k') >= 0"}],
 "mark": {"type": "rule", "color": "#000000", "strokeWidth": 3.2},
 "encoding": {
  "x": {"field": "x", "type": "quantitative", "scale": {"domain": [0, 12], "nice": false, "zero": false}, "axis": {"values": [0,2,4,6,8,10,12], "format": "~g", "title": "Distance from Substation (km)", "labelPadding": 10, "titlePadding": 6}},
  "x2": {"field": "x2"},
  "y": {"field": "y", "type": "quantitative", "scale": {"domain": [0.92, 1.04], "nice": false, "zero": false}, "axis": {"values": [0.92,0.94,0.95,0.96,0.98,1,1.02,1.04], "format": "~g", "title": "Voltage (pu)", "labelPadding": 7, "titleX": -47,
    "labelColor": {"condition": {"test": "datum.value == 0.95", "value": "#ff0000"}, "value": "#262626"},
    "labelFontSize": {"condition": {"test": "datum.value == 0.95", "value": 21}, "value": 16}}}
 }},
{"data": {"name": "offV"}, "transform": [{"filter": "indexof(datum.c,'k') >= 0"}],
 "mark": {"type": "rule", "color": "#000000", "strokeWidth": 3.2, "strokeDashOffset": 0},
 "encoding": {
  "x": {"field": "x", "type": "quantitative", "axis": {"orient": "bottom", "title": "Capacitor Bank OFF", "labels": false, "ticks": false, "domain": false, "grid": false, "titleFont": "Open Sans", "titleFontSize": 27.5, "titleFontWeight": "bold", "titleColor": "#000000", "titlePadding": 69, "titleX": 260}},
  "y": {"field": "y", "type": "quantitative"},
  "y2": {"field": "y2"},
  "strokeDash": {"field": "d", "type": "nominal", "scale": {"domain": ["s","d"], "range": [[1,0],[6,20]]}, "legend": null}
 }},
{"data": {"name": "offH"}, "transform": [{"filter": "indexof(datum.c,'r') >= 0"}],
 "mark": {"type": "rule", "color": "#ff0000", "strokeWidth": 3.2},
 "encoding": {"x": {"field": "x", "type": "quantitative", "axis": null}, "x2": {"field": "x2"}, "y": {"field": "y", "type": "quantitative"}}},
{"data": {"name": "offV"}, "transform": [{"filter": "indexof(datum.c,'r') >= 0"}],
 "mark": {"type": "rule", "color": "#ff0000", "strokeWidth": 3.2, "strokeDashOffset": -6},
 "encoding": {"x": {"field": "x", "type": "quantitative", "axis": null}, "y": {"field": "y", "type": "quantitative"}, "y2": {"field": "y2"},
  "strokeDash": {"field": "d", "type": "nominal", "scale": {"domain": ["s","d"], "range": [[1,0],[4,22]]}, "legend": null}}},
{"data": {"name": "offH"}, "transform": [{"filter": "indexof(datum.c,'b') >= 0"}],
 "mark": {"type": "rule", "color": "#0000ff", "strokeWidth": 3.2},
 "encoding": {"x": {"field": "x", "type": "quantitative", "axis": null}, "x2": {"field": "x2"}, "y": {"field": "y", "type": "quantitative"}}},
{"data": {"name": "offV"}, "transform": [{"filter": "indexof(datum.c,'b') >= 0"}],
 "mark": {"type": "rule", "color": "#0000ff", "strokeWidth": 3.2, "strokeDashOffset": -10},
 "encoding": {"x": {"field": "x", "type": "quantitative", "axis": null}, "y": {"field": "y", "type": "quantitative"}, "y2": {"field": "y2"},
  "strokeDash": {"field": "d", "type": "nominal", "scale": {"domain": ["s","d"], "range": [[1,0],[12,14]]}, "legend": null}}},
{"data": {"name": "offMain"},
 "mark": {"type": "line", "strokeWidth": 3.5},
 "encoding": {"x": {"field": "x", "type": "quantitative", "axis": null}, "y": {"field": "y", "type": "quantitative"}, "detail": {"field": "s"},
  "color": {"field": "ph", "type": "nominal", "scale": {"domain": ["PhaseA","PhaseB","PhaseC"], "range": ["#000000","#ff0000","#0000ff"]},
   "legend": {"title": null, "encode": {"symbols": {"update": {
     "shape": {"value": "M-1,0H4.33"},
     "fill": {"value": "transparent"},
     "stroke": {"signal": "datum.value === 'PhaseA' ? '#000000' : datum.value === 'PhaseB' ? '#ff0000' : '#0000ff'"},
     "strokeWidth": {"value": 3.5},
     "opacity": {"value": 1}}}}}}}},
{"data": {"values": [{}]},
 "mark": {"type": "rule", "color": "#ff0000", "strokeWidth": 4.5, "strokeDash": [11, 6]},
 "encoding": {"y": {"datum": 0.95, "type": "quantitative"}}}
]
}
],
"config": {
 "view": {"stroke": "#262626", "strokeWidth": 1.2},
 "axis": {"labelFont": "Liberation Sans", "labelFontWeight": "bold", "labelFontSize": 16, "labelColor": "#262626", "titleFont": "Liberation Sans", "titleFontWeight": "bold", "titleFontSize": 19.5, "titleColor": "#262626", "domainColor": "#262626", "domainWidth": 1.2, "gridColor": "#e3e3e3", "gridWidth": 1.2, "ticks": false, "labelFlush": false, "labelOverlap": false},
 "title": {"font": "Liberation Sans", "fontSize": 19.5, "fontWeight": "bold", "color": "#000000", "anchor": "middle", "frame": "group", "offset": -3},
 "legend": {"orient": "top-right", "offset": 12, "padding": 3, "fillColor": "#ffffff", "strokeColor": "#262626", "labelFont": "Liberation Sans", "labelFontWeight": "bold", "labelFontSize": 14.5, "labelColor": "#000000", "rowPadding": 0, "labelOffset": 33, "symbolSize": 324, "symbolStrokeWidth": 3.5, "symbolType": "M-1,0H4.33"}
}
}
